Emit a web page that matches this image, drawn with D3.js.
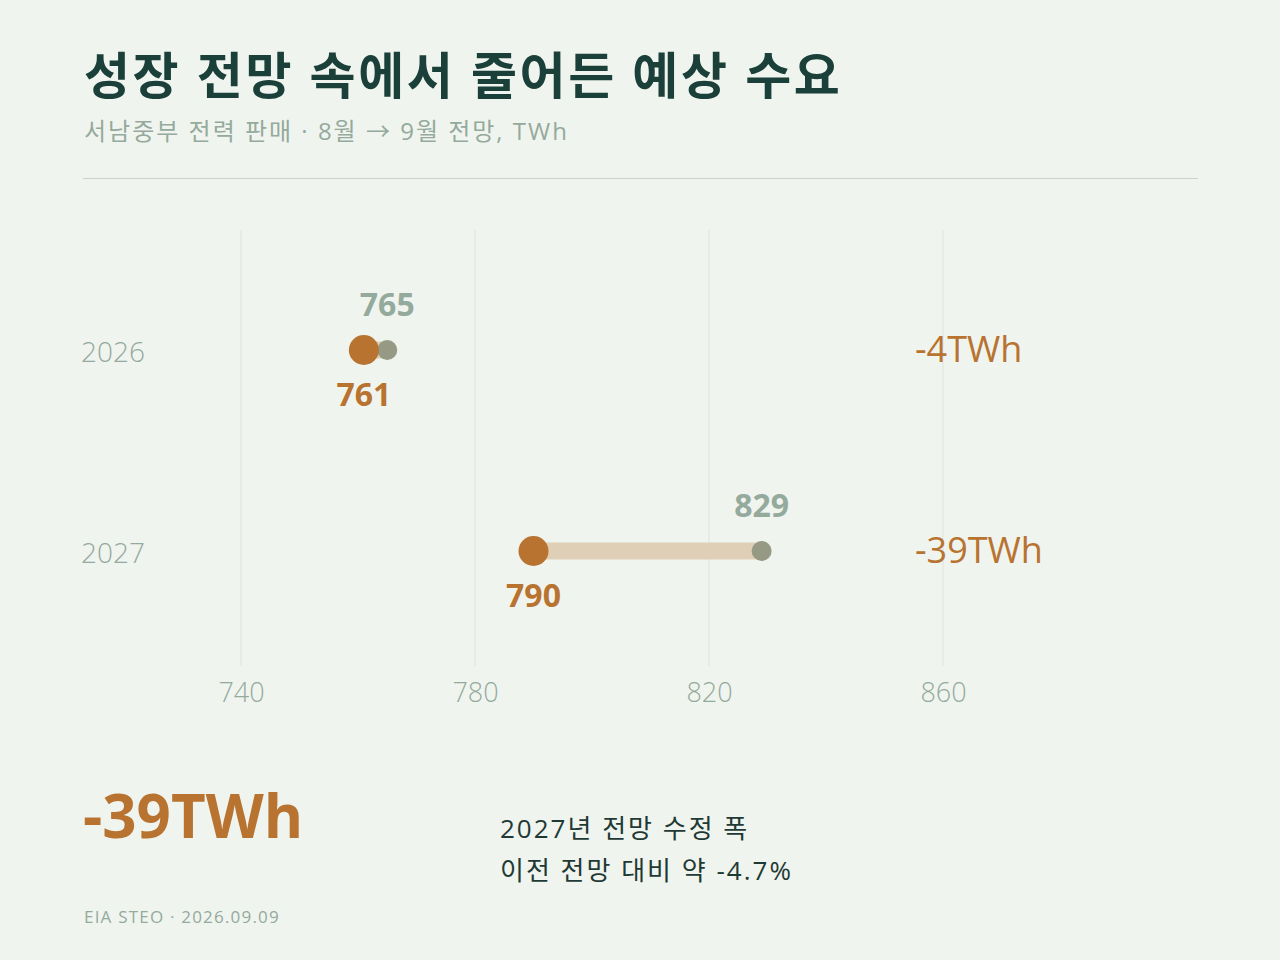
<!DOCTYPE html>
<html>
<head>
<meta charset="utf-8">
<script src="https://cdn.jsdelivr.net/npm/d3@7/dist/d3.min.js"></script>
<style>
  html, body { margin: 0; padding: 0; background: #f0f4ef; }
  svg text { font-family: "Open Sans", "Noto Sans CJK KR", sans-serif; }
</style>
</head>
<body>
<svg id="mainSVG" width="1280" height="960"></svg>
<script>
// chart values
var years = ['2026', '2027'];
var augForecast = [765, 829];
var sepForecast = [761, 790];
var tickValues = [740, 780, 820, 860];

var titleText = '성장 전망 속에서 줄어든 예상 수요';
var subtitleText = '서남중부 전력 판매 · 8월 → 9월 전망, TWh';
var noteLines = ['2027년 전망 수정 폭', '이전 전망 대비 약 '];
var sourceText = 'EIA STEO · 2026.09.09';

var colors = {
	bg: '#f0f4ef',
	title: '#1b4039',
	muted: '#94aa9c',
	orange: '#b87330',
	gray: '#969984',
	link: '#decfb6',
	grid: '#dde3dc',
	rule: '#c9d1c9',
	note: '#1f3a34'
};

var rows = years.map(function(y, i) {
	return { year: y, prev: augForecast[i], cur: sepForecast[i], diff: sepForecast[i] - augForecast[i] };
});

var svg = d3.select('#mainSVG');

svg.append('rect')
	.attr('width', 1280)
	.attr('height', 960)
	.attr('fill', colors.bg);

// header
svg.append('text')
	.attr('x', 84).attr('y', 94)
	.attr('font-size', 50).attr('font-weight', 700)
	.attr('letter-spacing', 2.6)
	.attr('fill', colors.title)
	.text(titleText);

svg.append('text')
	.attr('x', 84).attr('y', 140)
	.attr('font-size', 24).attr('font-weight', 400)
	.attr('letter-spacing', 2)
	.attr('fill', colors.muted)
	.text(subtitleText);

svg.append('line')
	.attr('x1', 83).attr('x2', 1198)
	.attr('y1', 178.5).attr('y2', 178.5)
	.attr('stroke', colors.rule).attr('stroke-width', 1.2);

// scales
var x = d3.scaleLinear().domain([720, 900]).range([124, 1177]);
var y = d3.scalePoint().domain(years).range([350, 551]);

// grid
svg.append('g').selectAll('line')
	.data(tickValues)
	.join('line')
	.attr('x1', function(d) { return x(d); })
	.attr('x2', function(d) { return x(d); })
	.attr('y1', 230).attr('y2', 666)
	.attr('stroke', colors.grid).attr('stroke-width', 1);

// axis labels
var axis = d3.axisBottom(x).tickValues(tickValues).tickSize(0).tickPadding(0);
var axisG = svg.append('g')
	.attr('transform', 'translate(0,702)')
	.call(axis);
axisG.select('.domain').remove();
axisG.selectAll('text')
	.attr('font-size', 27).attr('font-weight', 300)
	.attr('fill', colors.muted)
	.attr('dy', 0)
	.attr('font-family', '"Open Sans", sans-serif');

// row labels
svg.append('g').selectAll('text')
	.data(rows)
	.join('text')
	.attr('x', 81)
	.attr('y', function(d) { return y(d.year) + 12; })
	.attr('font-size', 28).attr('font-weight', 300)
	.attr('fill', colors.muted)
	.text(function(d) { return d.year; });

var rowG = svg.append('g').selectAll('g')
	.data(rows)
	.join('g');

rowG.append('line')
	.attr('x1', function(d) { return x(d.cur); })
	.attr('x2', function(d) { return x(d.prev); })
	.attr('y1', function(d) { return y(d.year); })
	.attr('y2', function(d) { return y(d.year); })
	.attr('stroke', colors.link).attr('stroke-width', 17);

rowG.append('circle')
	.attr('cx', function(d) { return x(d.prev); })
	.attr('cy', function(d) { return y(d.year); })
	.attr('r', 10)
	.attr('fill', colors.gray);

rowG.append('circle')
	.attr('cx', function(d) { return x(d.cur); })
	.attr('cy', function(d) { return y(d.year); })
	.attr('r', 15)
	.attr('fill', colors.orange);

// previous value above
rowG.append('text')
	.attr('x', function(d) { return x(d.prev); })
	.attr('y', function(d) { return y(d.year) - 34; })
	.attr('text-anchor', 'middle')
	.attr('font-size', 32).attr('font-weight', 700)
	.attr('fill', colors.muted)
	.text(function(d) { return d.prev; });

// current value below
rowG.append('text')
	.attr('x', function(d) { return x(d.cur); })
	.attr('y', function(d) { return y(d.year) + 56; })
	.attr('text-anchor', 'middle')
	.attr('font-size', 32).attr('font-weight', 700)
	.attr('fill', colors.orange)
	.text(function(d) { return d.cur; });

// diff on the right
rowG.append('text')
	.attr('x', 915)
	.attr('y', function(d) { return y(d.year) + 12; })
	.attr('font-size', 36).attr('font-weight', 400)
	.attr('fill', colors.orange)
	.text(function(d) { return d.diff + 'TWh'; });

// callout
var last = rows[rows.length - 1];
svg.append('text')
	.attr('x', 83).attr('y', 838)
	.attr('font-size', 60).attr('font-weight', 700)
	.attr('fill', colors.orange)
	.text(last.diff + 'TWh');

var pct = (last.diff / last.prev * 100).toFixed(1);
svg.append('text')
	.attr('x', 500).attr('y', 838)
	.attr('font-size', 26).attr('font-weight', 400)
	.attr('letter-spacing', 2)
	.attr('fill', colors.note)
	.text(noteLines[0]);
svg.append('text')
	.attr('x', 500).attr('y', 880)
	.attr('font-size', 26).attr('font-weight', 400)
	.attr('letter-spacing', 2)
	.attr('fill', colors.note)
	.text(noteLines[1] + pct + '%');

svg.append('text')
	.attr('x', 84).attr('y', 923)
	.attr('font-size', 17).attr('font-weight', 400)
	.attr('letter-spacing', 1.2)
	.attr('fill', colors.muted)
	.text(sourceText);
</script>
</body>
</html>
